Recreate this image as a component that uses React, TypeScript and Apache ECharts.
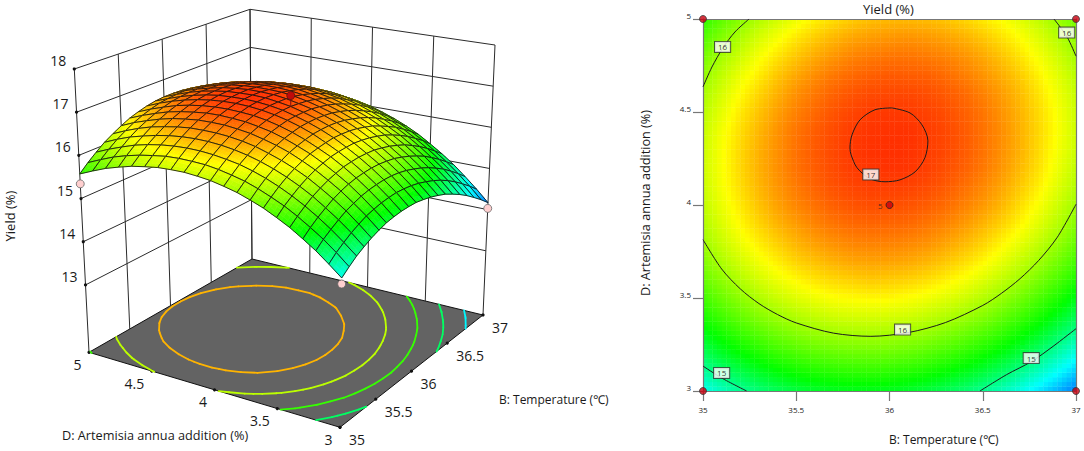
import * as echarts from "echarts";
import { useEffect, useRef } from "react";

const tempTicks = [35, 35.5, 36, 36.5, 37];
const additionTicks = [3, 3.5, 4, 4.5, 5];
const yieldTicks = [13, 14, 15, 16, 17, 18];

const tempGrid = [35, 35.1, 35.2, 35.3, 35.4, 35.5, 35.6, 35.7, 35.8, 35.9, 36, 36.1, 36.2, 36.3, 36.4, 36.5, 36.6, 36.7, 36.8, 36.9, 37];
const additionGrid = [3, 3.1, 3.2, 3.3, 3.4, 3.5, 3.6, 3.7, 3.8, 3.9, 4, 4.1, 4.2, 4.3, 4.4, 4.5, 4.6, 4.7, 4.8, 4.9, 5];

// one row per addition value, one column per temperature
const yieldRows = [
  [14.67, 14.81, 14.94, 15.04, 15.13, 15.20, 15.26, 15.29, 15.31, 15.31, 15.30, 15.26, 15.21, 15.14, 15.06, 14.95, 14.83, 14.69, 14.53, 14.36, 14.17],
  [14.90, 15.05, 15.17, 15.28, 15.37, 15.45, 15.50, 15.54, 15.56, 15.57, 15.55, 15.52, 15.47, 15.40, 15.32, 15.22, 15.10, 14.96, 14.80, 14.63, 14.44],
  [15.12, 15.27, 15.39, 15.50, 15.60, 15.67, 15.73, 15.77, 15.79, 15.80, 15.79, 15.76, 15.71, 15.64, 15.56, 15.46, 15.34, 15.21, 15.05, 14.88, 14.69],
  [15.31, 15.46, 15.59, 15.70, 15.80, 15.88, 15.94, 15.98, 16.00, 16.01, 16.00, 15.97, 15.93, 15.86, 15.78, 15.68, 15.57, 15.43, 15.28, 15.11, 14.93],
  [15.49, 15.64, 15.77, 15.89, 15.98, 16.06, 16.12, 16.17, 16.19, 16.20, 16.19, 16.17, 16.12, 16.06, 15.98, 15.89, 15.77, 15.64, 15.49, 15.32, 15.14],
  [15.64, 15.80, 15.93, 16.05, 16.15, 16.23, 16.29, 16.34, 16.36, 16.37, 16.37, 16.34, 16.30, 16.24, 16.17, 16.07, 15.96, 15.83, 15.68, 15.52, 15.33],
  [15.78, 15.93, 16.07, 16.19, 16.29, 16.37, 16.44, 16.48, 16.51, 16.53, 16.52, 16.50, 16.46, 16.40, 16.33, 16.23, 16.12, 16.00, 15.85, 15.69, 15.51],
  [15.89, 16.05, 16.19, 16.31, 16.41, 16.50, 16.56, 16.61, 16.65, 16.66, 16.66, 16.64, 16.60, 16.54, 16.47, 16.38, 16.27, 16.14, 16.00, 15.84, 15.66],
  [15.99, 16.15, 16.29, 16.41, 16.51, 16.60, 16.67, 16.72, 16.76, 16.77, 16.77, 16.75, 16.72, 16.66, 16.59, 16.50, 16.39, 16.27, 16.13, 15.97, 15.79],
  [16.06, 16.22, 16.37, 16.49, 16.60, 16.68, 16.76, 16.81, 16.85, 16.86, 16.86, 16.85, 16.81, 16.76, 16.69, 16.60, 16.50, 16.38, 16.24, 16.08, 15.90],
  [16.12, 16.28, 16.42, 16.55, 16.66, 16.75, 16.82, 16.88, 16.92, 16.94, 16.94, 16.92, 16.89, 16.84, 16.77, 16.69, 16.59, 16.46, 16.33, 16.17, 16.00],
  [16.15, 16.32, 16.46, 16.59, 16.70, 16.79, 16.87, 16.93, 16.97, 16.99, 16.99, 16.98, 16.95, 16.90, 16.83, 16.75, 16.65, 16.53, 16.40, 16.24, 16.07],
  [16.17, 16.33, 16.48, 16.61, 16.72, 16.82, 16.89, 16.95, 17.00, 17.02, 17.03, 17.02, 16.99, 16.94, 16.88, 16.80, 16.70, 16.58, 16.45, 16.29, 16.12],
  [16.16, 16.33, 16.48, 16.61, 16.72, 16.82, 16.90, 16.96, 17.01, 17.03, 17.04, 17.03, 17.00, 16.96, 16.90, 16.82, 16.72, 16.61, 16.47, 16.32, 16.16],
  [16.14, 16.31, 16.46, 16.59, 16.71, 16.81, 16.89, 16.95, 17.00, 17.02, 17.03, 17.03, 17.00, 16.96, 16.90, 16.82, 16.73, 16.61, 16.48, 16.34, 16.17],
  [16.09, 16.26, 16.42, 16.55, 16.67, 16.77, 16.85, 16.92, 16.97, 17.00, 17.01, 17.00, 16.98, 16.94, 16.88, 16.81, 16.71, 16.60, 16.47, 16.33, 16.16],
  [16.03, 16.20, 16.36, 16.49, 16.61, 16.72, 16.80, 16.87, 16.92, 16.95, 16.96, 16.96, 16.94, 16.90, 16.85, 16.77, 16.68, 16.57, 16.44, 16.30, 16.14],
  [15.94, 16.12, 16.28, 16.41, 16.54, 16.64, 16.73, 16.80, 16.85, 16.88, 16.90, 16.89, 16.88, 16.84, 16.78, 16.71, 16.62, 16.52, 16.39, 16.25, 16.09],
  [15.84, 16.02, 16.17, 16.32, 16.44, 16.54, 16.63, 16.70, 16.76, 16.79, 16.81, 16.81, 16.79, 16.76, 16.71, 16.64, 16.55, 16.44, 16.32, 16.18, 16.02],
  [15.71, 15.89, 16.05, 16.20, 16.32, 16.43, 16.52, 16.59, 16.65, 16.68, 16.70, 16.71, 16.69, 16.66, 16.61, 16.54, 16.45, 16.35, 16.23, 16.09, 15.93],
  [15.57, 15.75, 15.91, 16.06, 16.18, 16.29, 16.39, 16.46, 16.52, 16.56, 16.58, 16.58, 16.57, 16.54, 16.49, 16.42, 16.34, 16.24, 16.12, 15.98, 15.83],
];

const floorLevels = [14.6, 15.1, 15.6, 16.1, 16.6];

// contour lines of the flat plot, temperature / addition pairs
const contour16TopLeft = [[35, 4.635], [35.048, 4.742], [35.107, 4.845], [35.171, 4.93], [35.247, 5]];
const contour16TopRight = [[36.882, 5], [36.952, 4.904], [37, 4.8]];
const contour16Bottom = [
  [35, 3.814], [35.1, 3.656], [35.2, 3.549], [35.3, 3.47], [35.4, 3.411], [35.5, 3.366], [35.7, 3.311], [35.9, 3.294],
  [36.1, 3.314], [36.3, 3.368], [36.5, 3.46], [36.6, 3.525], [36.7, 3.604], [36.8, 3.702], [36.9, 3.827], [37, 4.004],
];
const contour15Left = [[35, 3.134], [35.1, 3.07], [35.234, 3]];
const contour15Right = [[36.485, 3], [36.628, 3.088], [36.762, 3.159], [36.877, 3.24], [37, 3.335]];
const contour17 = [
  [36.013, 4.522], [36.11, 4.495], [36.174, 4.431], [36.206, 4.345], [36.19, 4.254], [36.137, 4.178], [36.056, 4.135],
  [35.976, 4.125], [35.895, 4.141], [35.826, 4.2], [35.794, 4.27], [35.788, 4.307], [35.799, 4.377], [35.842, 4.458],
  [35.922, 4.512], [36.013, 4.522],
];
const contourLists = [contour16TopLeft, contour16TopRight, contour16Bottom, contour15Left, contour15Right, contour17];

// temperature, addition, yield
const corner3dLow = [[35, 5, 15.34], [35, 3, 14.54], [37, 3, 14.03]];
const center3dHigh = [36, 4, 17.2];
const designPoints = [[35, 3], [37, 3], [35, 5], [37, 5]];
const centerPoint = [36, 4];
const contourTags = [
  [35.105, 4.85, "16"],
  [36.95, 4.927, "16"],
  [35.9, 4.164, "17"],
  [36.07, 3.33, "16"],
  [35.1, 3.097, "15"],
  [36.76, 3.177, "15"],
];

const stopValues = [14.17, 14.62, 15.4, 16.35, 17.05];
const stopColors = ["#0078ff", "#00ffff", "#00ff00", "#ffff00", "#ff2c00"];
const FONT = "'Open Sans', 'Noto Sans', sans-serif";

function colorAt(v: number): string {
  if (v <= stopValues[0]) return stopColors[0];
  for (let k = 1; k < stopValues.length; k++) {
    if (v <= stopValues[k]) {
      const t = (v - stopValues[k - 1]) / (stopValues[k] - stopValues[k - 1]);
      return echarts.color.lerp(t, [stopColors[k - 1], stopColors[k]]) as string;
    }
  }
  return stopColors[stopColors.length - 1];
}

// the box of the 3d view: corners in order front, right, back, left
const floorBox = [[340, 427.3], [483, 315], [252, 259], [89, 352.3]];
const topBox = [[343.5, 124], [495, 45], [250, 9.3], [74.3, 69]];
const floorYield = 11.44;
const topYield = 18;

function project(b: number, d: number, z: number) {
  const s = (b - 35) / 2;
  const t = (d - 3) / 2;
  const h = (z - floorYield) / (topYield - floorYield);
  const w = [(1 - s) * (1 - t), s * (1 - t), s * t, (1 - s) * t];
  const mix = (box: number[][], k: number) => w[0] * box[0][k] + w[1] * box[1][k] + w[2] * box[2][k] + w[3] * box[3][k];
  return [
    mix(floorBox, 0) * (1 - h) + mix(topBox, 0) * h,
    mix(floorBox, 1) * (1 - h) + mix(topBox, 1) * h,
  ];
}

// corner value inside one table cell, for shading it
function cellValue(i: number, j: number, a: number, c: number) {
  return (1 - a) * (1 - c) * yieldRows[j][i] + a * (1 - c) * yieldRows[j][i + 1] +
    a * c * yieldRows[j + 1][i + 1] + (1 - a) * c * yieldRows[j + 1][i];
}

// marching squares over the table
function contourSegments(level: number) {
  const segs: number[][] = [];
  for (let j = 0; j < additionGrid.length - 1; j++) {
    for (let i = 0; i < tempGrid.length - 1; i++) {
      const corners = [
        [tempGrid[i], additionGrid[j], yieldRows[j][i]],
        [tempGrid[i + 1], additionGrid[j], yieldRows[j][i + 1]],
        [tempGrid[i + 1], additionGrid[j + 1], yieldRows[j + 1][i + 1]],
        [tempGrid[i], additionGrid[j + 1], yieldRows[j + 1][i]],
      ];
      const hits: number[][] = [];
      for (let k = 0; k < 4; k++) {
        const p = corners[k];
        const q = corners[(k + 1) % 4];
        if ((p[2] < level) !== (q[2] < level)) {
          const f = (level - p[2]) / (q[2] - p[2]);
          hits.push([p[0] + (q[0] - p[0]) * f, p[1] + (q[1] - p[1]) * f]);
        }
      }
      if (hits.length >= 2) segs.push([hits[0][0], hits[0][1], hits[1][0], hits[1][1]]);
      if (hits.length === 4) segs.push([hits[2][0], hits[2][1], hits[3][0], hits[3][1]]);
    }
  }
  return segs;
}

const LINE = "#2b2b2b";
const line3d = (a: number[], b: number[], stroke = LINE, lineWidth = 1) => ({
  type: "line",
  shape: { x1: a[0], y1: a[1], x2: b[0], y2: b[1] },
  style: { stroke, lineWidth },
});

function boxElements() {
  const out: any[] = [];
  // floor
  const fl = [project(35, 3, floorYield), project(37, 3, floorYield), project(37, 5, floorYield), project(35, 5, floorYield)];
  out.push({ type: "polygon", shape: { points: fl }, style: { fill: "#636363", stroke: "#111", lineWidth: 1 } });
  // walls
  tempTicks.forEach((b) => out.push(line3d(project(b, 5, floorYield), project(b, 5, topYield))));
  additionTicks.forEach((d) => out.push(line3d(project(37, d, floorYield), project(37, d, topYield))));
  yieldTicks.forEach((z) => {
    out.push(line3d(project(35, 5, z), project(37, 5, z)));
    out.push(line3d(project(37, 5, z), project(37, 3, z)));
  });
  // tick dots
  const dot = (p: number[]) => ({ type: "circle", shape: { cx: p[0], cy: p[1], r: 1.6 }, style: { fill: "#111" } });
  yieldTicks.forEach((z) => out.push(dot(project(35, 5, z))));
  tempTicks.forEach((b) => out.push(dot(project(b, 3, floorYield))));
  additionTicks.forEach((d) => out.push(dot(project(35, d, floorYield))));
  return out;
}

function floorContourElements() {
  const out: any[] = [];
  floorLevels.forEach((level) => {
    contourSegments(level).forEach((s) => {
      const a = project(s[0], s[1], floorYield);
      const b = project(s[2], s[3], floorYield);
      out.push({
        type: "line",
        shape: { x1: a[0], y1: a[1], x2: b[0], y2: b[1] },
        style: { stroke: colorAt(level), lineWidth: 1.8, lineCap: "round" },
      });
    });
  });
  return out;
}

// back cells first, so nearer ones paint over them
const surfaceCells: number[][] = [];
for (let i = tempGrid.length - 2; i >= 0; i--) {
  for (let j = additionGrid.length - 2; j >= 0; j--) surfaceCells.push([i, j]);
}

const SURFACE_STEPS = 3;
function renderSurfaceCell(params: any) {
  const [i, j] = surfaceCells[params.dataIndex];
  const x0 = tempGrid[i];
  const x1 = tempGrid[i + 1];
  const y0 = additionGrid[j];
  const y1 = additionGrid[j + 1];
  const at = (a: number, c: number) => project(x0 + (x1 - x0) * a, y0 + (y1 - y0) * c, cellValue(i, j, a, c));
  const children: any[] = [];
  for (let m = 0; m < SURFACE_STEPS; m++) {
    for (let n = 0; n < SURFACE_STEPS; n++) {
      const a0 = m / SURFACE_STEPS;
      const a1 = (m + 1) / SURFACE_STEPS;
      const c0 = n / SURFACE_STEPS;
      const c1 = (n + 1) / SURFACE_STEPS;
      const col = colorAt(cellValue(i, j, (a0 + a1) / 2, (c0 + c1) / 2));
      children.push({
        type: "polygon",
        shape: { points: [at(a0, c0), at(a1, c0), at(a1, c1), at(a0, c1)] },
        style: { fill: col, stroke: col, lineWidth: 0.6 },
      });
    }
  }
  children.push({
    type: "polygon",
    shape: { points: [at(0, 0), at(1, 0), at(1, 1), at(0, 1)] },
    style: { fill: "none", stroke: "#111", lineWidth: 0.85 },
  });
  return { type: "group", children };
}

function pointElements() {
  const out: any[] = [];
  corner3dLow.forEach((p) => {
    const c = project(p[0], p[1], p[2]);
    out.push({ type: "circle", shape: { cx: c[0], cy: c[1], r: 4 }, style: { fill: "#ffcfcf", stroke: "#666", lineWidth: 0.8 } });
  });
  const c = project(center3dHigh[0], center3dHigh[1], center3dHigh[2]);
  const i = tempGrid.indexOf(center3dHigh[0]);
  const j = additionGrid.indexOf(center3dHigh[1]);
  out.push(line3d(c, project(center3dHigh[0], center3dHigh[1], yieldRows[j][i]), "#7a1010", 1));
  out.push({ type: "circle", shape: { cx: c[0], cy: c[1], r: 4 }, style: { fill: "#c00a0a", stroke: "#5a1010", lineWidth: 0.8 } });
  return out;
}

const heatCells: number[][] = [];
for (let j = 0; j < additionGrid.length - 1; j++) {
  for (let i = 0; i < tempGrid.length - 1; i++) heatCells.push([tempGrid[i], additionGrid[j], i, j]);
}

const HEAT_STEPS = 4;
function renderHeatCell(params: any, api: any) {
  const [x0, y0, i, j] = heatCells[params.dataIndex];
  const a = api.coord([x0, y0]);
  const b = api.coord([tempGrid[i + 1], additionGrid[j + 1]]);
  const w = (b[0] - a[0]) / HEAT_STEPS;
  const h = (a[1] - b[1]) / HEAT_STEPS;
  const children: any[] = [];
  for (let m = 0; m < HEAT_STEPS; m++) {
    for (let n = 0; n < HEAT_STEPS; n++) {
      children.push({
        type: "rect",
        shape: { x: a[0] + m * w, y: a[1] - (n + 1) * h, width: w + 0.4, height: h + 0.4 },
        style: { fill: colorAt(cellValue(i, j, (m + 0.5) / HEAT_STEPS, (n + 0.5) / HEAT_STEPS)) },
      });
    }
  }
  return { type: "group", children };
}

function text3d(text: string, p: number[], dx: number, dy: number, align: string) {
  return {
    type: "text",
    x: p[0] + dx,
    y: p[1] + dy,
    silent: true,
    style: { text, fill: "#1a1a1a", font: `14px ${FONT}`, align, verticalAlign: "middle" },
  };
}

function axisTitle(text: string, x: number, y: number, size: number, align = "left", rotation = 0) {
  return {
    type: "text",
    x,
    y,
    rotation,
    silent: true,
    style: { text, fill: "#1a1a1a", font: `${size}px ${FONT}`, align, verticalAlign: "middle" },
  };
}

export default function App() {
  const ref = useRef<HTMLDivElement | null>(null);

  useEffect(() => {
    if (!ref.current) return;
    const chart = echarts.init(ref.current, undefined, { renderer: "svg" });
    const axisStyle = { lineStyle: { color: "#777", width: 1.2 } };
    const tickLabel = { fontSize: 8, color: "#222", fontFamily: FONT };
    chart.setOption({
      animation: false,
      grid: { left: 703, top: 19, width: 373, height: 372 },
      xAxis: [
        {
          type: "value", min: 35, max: 37, interval: 0.5, z: 5,
          splitLine: { show: false },
          axisLine: axisStyle,
          axisTick: { length: 10, lineStyle: { color: "#777", width: 1.2 } },
          axisLabel: { ...tickLabel, margin: 14, showMinLabel: true, showMaxLabel: true },
        },
        {
          type: "value", min: 35, max: 37, position: "top", z: 5,
          splitLine: { show: false },
          axisLine: { show: true, ...axisStyle },
          axisTick: { show: false },
          axisLabel: { show: false },
        },
      ],
      yAxis: [
        {
          type: "value", min: 3, max: 5, interval: 0.5, z: 5,
          splitLine: { show: false },
          axisLine: { show: true, ...axisStyle },
          axisTick: { show: true, length: 10, lineStyle: { color: "#777", width: 1.2 } },
          axisLabel: { ...tickLabel, margin: 12, verticalAlign: "bottom" },
        },
        {
          type: "value", min: 3, max: 5, position: "right", z: 5,
          splitLine: { show: false },
          axisLine: { show: true, ...axisStyle },
          axisTick: { show: false },
          axisLabel: { show: false },
        },
      ],
      graphic: [
        ...yieldTicks.map((z) => text3d(String(z), project(35, 5, z), -8, -8.5, "right")),
        ...additionTicks.map((d) => text3d(String(d), project(35, d, floorYield), -7.5, 12, "right")),
        ...tempTicks.map((b) => text3d(String(b), project(b, 3, floorYield), 9, 12, "left")),
        axisTitle("Yield (%)", 10, 216, 13, "center", Math.PI / 2),
        axisTitle("D: Artemisia annua addition (%)", 62, 435, 12.7),
        axisTitle("B: Temperature (℃)", 499, 399, 12),
        axisTitle("Yield (%)", 863, 9, 13),
        axisTitle("D: Artemisia annua addition (%)", 645, 203, 12.7, "center", Math.PI / 2),
        axisTitle("B: Temperature (℃)", 889, 439, 12),
      ],
      series: [
        {
          type: "custom", coordinateSystem: "none", z: 1, silent: true,
          data: [0],
          renderItem: () => ({ type: "group", children: [...boxElements(), ...floorContourElements()] }),
        },
        {
          type: "custom", coordinateSystem: "none", z: 2, silent: true,
          data: surfaceCells.map((c) => c[0]),
          renderItem: renderSurfaceCell,
        },
        {
          type: "custom", coordinateSystem: "none", z: 3, silent: true,
          data: [0],
          renderItem: () => ({ type: "group", children: pointElements() }),
        },
        {
          type: "custom", z: 1, silent: true,
          data: heatCells.map((c) => [c[0], c[1]]),
          encode: { x: 0, y: 1 },
          clip: true,
          renderItem: renderHeatCell,
        },
        ...contourLists.map((points) => ({
          type: "line", z: 6, silent: true,
          symbol: "none",
          smooth: 0.3,
          lineStyle: { color: "#1c1c1c", width: 1 },
          data: points,
        })),
        {
          type: "scatter", z: 7, silent: true, clip: false,
          symbolSize: 7,
          itemStyle: { color: "#c8000f", borderColor: "#3a3a3a", borderWidth: 1 },
          data: designPoints,
        },
        {
          type: "scatter", z: 7, silent: true, clip: false,
          symbolSize: 7,
          itemStyle: { color: "#c8000f", borderColor: "#222", borderWidth: 1 },
          label: { show: true, position: "left", formatter: "5", fontSize: 8, color: "#222", fontFamily: FONT, distance: 3 },
          data: [centerPoint],
        },
        {
          type: "scatter", z: 8, silent: true, clip: false,
          symbolSize: 1,
          itemStyle: { color: "transparent" },
          label: {
            show: true, position: "inside", fontSize: 8, color: "#000", fontFamily: FONT,
            backgroundColor: "#fff", borderColor: "#333", borderWidth: 1, padding: [1, 3, 1, 3],
            formatter: (p: any) => p.value[2],
          },
          data: contourTags,
        },
      ],
    });
    return () => chart.dispose();
  }, []);

  return <div ref={ref} style={{ position: "absolute", left: 0, top: 0, width: 1084, height: 451 }} />;
}
